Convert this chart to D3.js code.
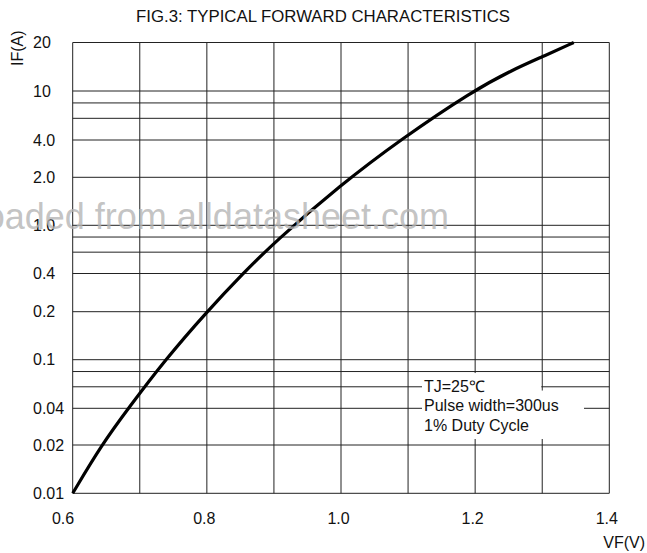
<!DOCTYPE html>
<meta charset="utf-8">
<head>
<style>
  body { margin: 0; background: #fff; }
  .grid { stroke: #222; stroke-width: 1px; fill: none; }
  .curve { fill: none; stroke: #000; stroke-width: 3.2px; }
  text { font-family: "Liberation Sans", Arial, sans-serif; fill: #111; }
</style>
</head>
<body>
<div id="content"></div>
<script src="https://d3js.org/d3.v7.min.js"></script>
<script type="text/javascript">

// forward voltage (V) and forward current (A)
var vf = [0.6, 0.643, 0.683, 0.738, 0.8, 0.854, 0.9, 1.0, 1.088, 1.196, 1.257, 1.3, 1.347];
var ifw = [0.01, 0.02, 0.04, 0.1, 0.2, 0.4, 0.72, 1.8, 4.0, 10, 13.6, 16.3, 20];

var xGrid = [0.6, 0.7, 0.8, 0.9, 1.0, 1.1, 1.2, 1.3, 1.4];
var xTicks = [0.6, 0.8, 1.0, 1.2, 1.4];
var yGrid = [0.01, 0.02, 0.04, 0.06, 0.08, 0.1, 0.2, 0.4, 0.6, 0.8, 1, 2, 4, 6, 8, 10, 20];
var yTicks = [20, 10, 4, 2, 1, 0.4, 0.2, 0.1, 0.04, 0.02, 0.01];
var yTickLabels = ["20", "10", "4.0", "2.0", "1.0", "0.4", "0.2", "0.1", "0.04", "0.02", "0.01"];
var notes = ["TJ=25\u2103", "Pulse width=300us", "1% Duty Cycle"];

var width = 647, height = 553;
var plotLeft = 72.7, plotRight = 609.3, plotTop = 42.5, plotBottom = 493.3;

var svg = d3.select("#content")
  .append("svg")
    .attr("width", width)
    .attr("height", height);

var x = d3.scaleLinear().domain([0.6, 1.4]).range([plotLeft, plotRight]);

// the printed log paper is slightly uneven, so the log scale is pinned at the 1-2-4 marks
var y = d3.scaleLog()
  .domain([0.01, 0.02, 0.04, 0.1, 0.2, 0.4, 1, 2, 4, 10, 20])
  .range([plotBottom, 445, 408.3, 359.7, 311.7, 273.5, 225.3, 177.3, 140, 91, plotTop]);

var g = svg.append("g");

g.selectAll(".vgrid")
  .data(xGrid)
  .enter()
  .append("line")
    .attr("class", "grid")
    .attr("x1", function(d) { return x(d); })
    .attr("x2", function(d) { return x(d); })
    .attr("y1", plotTop)
    .attr("y2", plotBottom);

g.selectAll(".hgrid")
  .data(yGrid)
  .enter()
  .append("line")
    .attr("class", "grid")
    .attr("x1", plotLeft)
    .attr("x2", plotRight)
    .attr("y1", function(d) { return y(d); })
    .attr("y2", function(d) { return y(d); });

// white patches behind the test conditions
g.append("rect")
  .attr("x", 422).attr("y", y(0.08) + 1.5)
  .attr("width", x(1.3) - 423).attr("height", 18)
  .attr("fill", "#fff");
g.append("rect")
  .attr("x", 422).attr("y", y(0.08) + 19)
  .attr("width", 162).attr("height", y(0.02) - y(0.08) - 25)
  .attr("fill", "#fff");

g.selectAll(".note")
  .data(notes)
  .enter()
  .append("text")
    .attr("x", 424)
    .attr("y", function(d, i) { return 391.5 + i * 19.8; })
    .style("font-size", "16px")
    .text(function(d) { return d; });

// smoothed through the read points, like the hand-drawn trace
var line = d3.line()
  .x(function(d) { return x(d[0]); })
  .y(function(d) { return y(d[1]); })
  .curve(d3.curveBasis);

g.append("path")
  .datum(vf.map(function(v, i) { return [v, ifw[i]]; }))
  .attr("class", "curve")
  .attr("d", line);

// axis labels
svg.selectAll(".ylab")
  .data(yTicks)
  .enter()
  .append("text")
    .attr("x", 33)
    .attr("y", function(d) { return y(d); })
    .attr("dy", "0.36em")
    .style("font-size", "16px")
    .text(function(d, i) { return yTickLabels[i]; });

svg.selectAll(".xlab")
  .data(xTicks)
  .enter()
  .append("text")
    .attr("x", function(d, i) { return i === 0 ? x(d) + 1.5 : x(d) - 2.5; })
    .attr("y", 523.5)
    .attr("text-anchor", function(d, i) { return i === 0 ? "end" : "middle"; })
    .style("font-size", "16px")
    .text(function(d) { return d.toFixed(1); });

svg.append("text")
  .attr("x", 645)
  .attr("y", 548)
  .attr("text-anchor", "end")
  .style("font-size", "16px")
  .text("VF(V)");

svg.append("text")
  .attr("transform", "translate(22.5,48.3) rotate(-90)")
  .attr("text-anchor", "middle")
  .style("font-size", "16px")
  .text("IF(A)");

svg.append("text")
  .attr("x", 323)
  .attr("y", 22.3)
  .attr("text-anchor", "middle")
  .style("font-size", "16.8px")
  .text("FIG.3: TYPICAL FORWARD CHARACTERISTICS");

// watermark
svg.append("text")
  .attr("x", 449)
  .attr("y", 229)
  .attr("text-anchor", "end")
  .style("font-size", "36px")
  .style("fill", "#b4b4b4")
  .style("fill-opacity", 0.8)
  .text("Downloaded from alldatasheet.com");

</script>
</body>
</html>
